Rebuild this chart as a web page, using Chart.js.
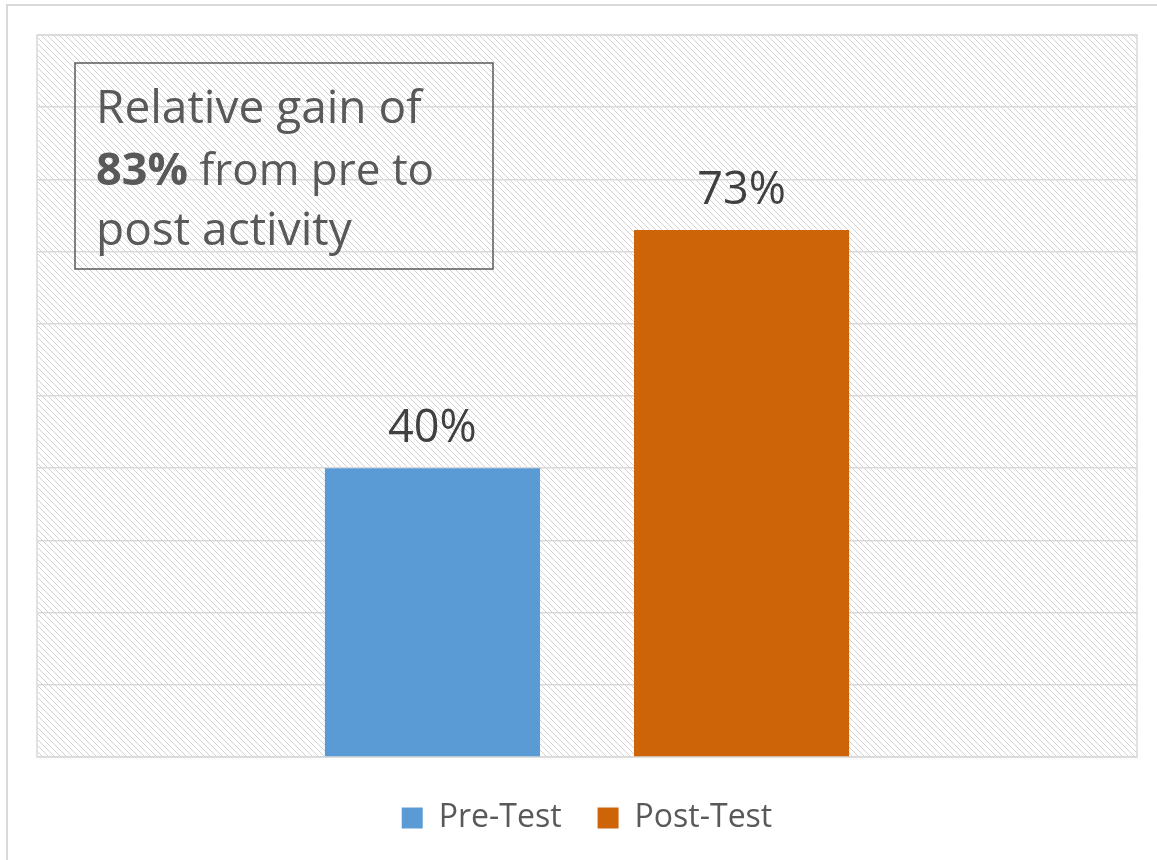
<!DOCTYPE html>
<html>
<head>
<meta charset="utf-8">
<script src="https://cdn.jsdelivr.net/npm/chart.js@4/dist/chart.umd.min.js"></script>
<style>
  body { margin: 0; background: #fff; }
  canvas { display: block; }
</style>
</head>
<body>
<canvas id="myChart" width="1157" height="860"></canvas>
<script>
var categories = [''];
var preTest = [40];
var postTest = [73];
var seriesNames = ['Pre-Test', 'Post-Test'];
var noteLines = ['Relative gain of', '83%', ' from pre to', 'post activity'];

var ctx = document.getElementById('myChart').getContext('2d');

// light diagonal hatch like the office chart background
var hatch = document.createElement('canvas');
hatch.width = 6;
hatch.height = 6;
var hctx = hatch.getContext('2d');
hctx.fillStyle = '#d2d2d2';
for (let i = 0; i < 6; i++) {
    hctx.fillRect(i, i, 1, 1);
}
var hatchPattern = ctx.createPattern(hatch, 'repeat');

var backgroundPlugin = {
    id: 'background',
    beforeDraw: function(chart) {
        var c = chart.ctx;
        var a = chart.chartArea;
        c.save();
        c.fillStyle = '#fff';
        c.fillRect(0, 0, chart.width, chart.height);
        c.strokeStyle = '#d9d9d9';
        c.lineWidth = 2;
        c.strokeRect(7, 5, chart.width + 50, chart.height + 50);
        c.fillStyle = hatchPattern;
        c.fillRect(a.left, a.top, a.right - a.left, a.bottom - a.top);
        c.lineWidth = 1.5;
        c.strokeRect(a.left, a.top, a.right - a.left, a.bottom - a.top);
        c.restore();
    },
    afterDatasetsDraw: function(chart) {
        var c = chart.ctx;
        c.save();
        // value labels
        c.font = '45px "Open Sans"';
        c.fillStyle = '#404040';
        c.textAlign = 'center';
        c.textBaseline = 'alphabetic';
        chart.data.datasets.forEach(function(ds, i) {
            chart.getDatasetMeta(i).data.forEach(function(bar, j) {
                c.fillText(ds.data[j] + '%', bar.x, bar.y - 26);
            });
        });
        // note box
        c.strokeStyle = '#595959';
        c.lineWidth = 1.5;
        c.strokeRect(75, 63, 418, 206);
        c.textAlign = 'left';
        c.fillStyle = '#595959';
        c.font = '46px "Open Sans"';
        c.fillText(noteLines[0], 96, 123);
        c.font = 'bold 45px "Open Sans"';
        c.fillText(noteLines[1], 96, 185);
        var w = c.measureText(noteLines[1]).width;
        c.font = '44px "Open Sans"';
        c.fillText(noteLines[2], 96 + w, 185);
        c.font = '46px "Open Sans"';
        c.fillText(noteLines[3], 96, 245);
        c.restore();
    }
};

var myChart = new Chart(ctx, {
    type: 'bar',
    data: {
        labels: categories,
        datasets: [{
            label: seriesNames[0],
            data: preTest,
            backgroundColor: '#5b9bd5'
        },
        {
            label: seriesNames[1],
            data: postTest,
            backgroundColor: '#cd6508'
        }]
    },
    options: {
        responsive: false,
        animation: false,
        categoryPercentage: 0.562,
        barPercentage: 0.696,
        layout: {
            padding: { left: 37, right: 20, top: 35, bottom: 16 }
        },
        plugins: {
            tooltip: { enabled: false },
            legend: {
                position: 'bottom',
                labels: {
                    boxWidth: 21,
                    boxHeight: 21,
                    padding: 36,
                    color: '#595959',
                    font: { family: 'Open Sans', size: 32 }
                }
            }
        },
        scales: {
            x: {
                ticks: { display: false },
                grid: { display: false, drawTicks: true, tickLength: 9 },
                border: { display: false }
            },
            y: {
                min: 0,
                max: 100,
                ticks: { display: false, stepSize: 10 },
                grid: { color: '#d9d9d9', lineWidth: 1.5, drawTicks: false },
                border: { display: false }
            }
        }
    },
    plugins: [backgroundPlugin]
});
</script>
</body>
</html>
